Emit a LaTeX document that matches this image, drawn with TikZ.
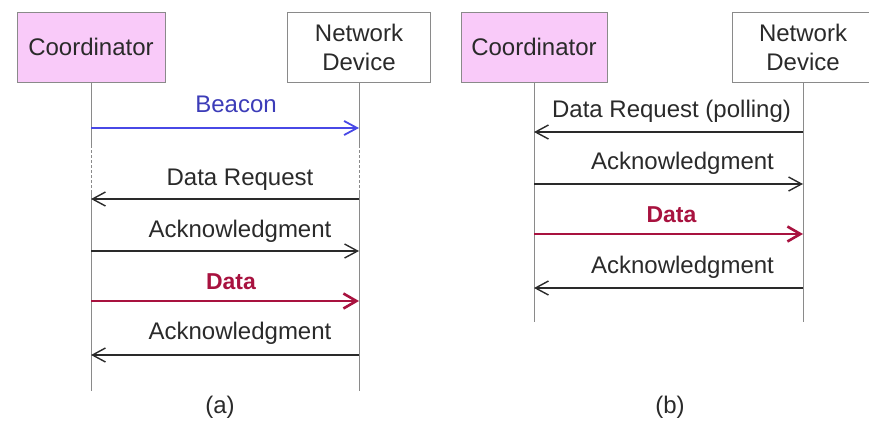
\documentclass[tikz,border=0pt]{standalone}
\usepackage{fontspec}
\setmainfont{Liberation Sans}
\usetikzlibrary{positioning,calc,arrows.meta}

\definecolor{boxpink}{HTML}{F9CAF9}
\definecolor{linegray}{HTML}{8A8A8A}
\definecolor{msgblue}{HTML}{4848E6}
\definecolor{labelblue}{HTML}{3C3CB8}
\definecolor{msgred}{HTML}{A8123F}
\definecolor{msgblack}{HTML}{2A2A2A}

\tikzset{
    actor/.style={draw=linegray, line width=1pt, minimum height=70pt, align=center,
        inner sep=0pt, text=msgblack, font=\fontsize{24}{29}\selectfont},
    lifeline/.style={draw=linegray, line width=1pt},
    msg/.style={draw=msgblack, line width=1.4pt,
        -{Straight Barb[length=13pt,width=14pt,line width=1.4pt]}},
    datamsg/.style={draw=msgred, line width=2.6pt,
        -{Straight Barb[length=13pt,width=15pt,line width=2.6pt]}},
    msglabel/.style={font=\fontsize{24}{28}\selectfont, text=msgblack, inner sep=0pt, anchor=base},
    caption/.style={font=\fontsize{24}{28}\selectfont, text=msgblack, inner sep=0pt}
}

\begin{document}
\begin{tikzpicture}[x=1pt, y=-1pt]
    \useasboundingbox (0,0) rectangle (869,421);

    % Beacon-enabled (a)
    \begin{scope}
        \node[actor, fill=boxpink, minimum width=148pt] (coordA) at (91,47) {Coordinator};
        \node[actor, fill=white, minimum width=143pt] (devA) at (359,47) {Network\\Device};
        \coordinate (coordAend) at (coordA.south |- 0,391);
        \coordinate (devAend) at (devA.south |- 0,391);
        \draw[lifeline] (coordA.south) -- (coordA.south |- 0,145);
        \draw[lifeline, dashed, dash pattern=on 3pt off 2pt] (coordA.south |- 0,145) -- (coordA.south |- 0,190);
        \draw[lifeline] (coordA.south |- 0,190) -- (coordAend);
        \draw[lifeline] (devA.south) -- (devA.south |- 0,145);
        \draw[lifeline, dashed, dash pattern=on 3pt off 2pt] (devA.south |- 0,145) -- (devA.south |- 0,190);
        \draw[lifeline] (devA.south |- 0,190) -- (devAend);

        \draw[msg, draw=msgblue, line width=1.8pt,
              -{Straight Barb[length=13pt,width=14pt,line width=1.8pt]}]
            (coordA.south |- 0,128) -- (devA.south |- 0,128)
            node[msglabel, text=labelblue, midway, yshift=16pt, xshift=11pt] {Beacon};
        \draw[msg] (devA.south |- 0,199) -- (coordA.south |- 0,199)
            node[msglabel, midway, yshift=14pt, xshift=15pt] {Data Request};
        \draw[msg] (coordA.south |- 0,251) -- (devA.south |- 0,251)
            node[msglabel, midway, yshift=14pt, xshift=15pt] {Acknowledgment};
        \draw[datamsg] (coordA.south |- 0,301) -- (devA.south |- 0,301)
            node[msglabel, text=msgred, font=\fontsize{23}{28}\selectfont\bfseries,
                 midway, yshift=12pt, xshift=6pt] {Data};
        \draw[msg] (devA.south |- 0,355) -- (coordA.south |- 0,355)
            node[msglabel, midway, yshift=16pt, xshift=15pt] {Acknowledgment};
        \node[caption] (capA) at (220,407) {(a)};
    \end{scope}

    % Non beacon-enabled (b)
    \begin{scope}
        \node[actor, fill=boxpink, minimum width=146pt] (coordB) at (534,47) {Coordinator};
        \node[actor, fill=white, minimum width=142pt] (devB) at (803,47) {Network\\Device};
        \coordinate (coordBend) at (coordB.south |- 0,322);
        \coordinate (devBend) at (devB.south |- 0,322);
        \draw[lifeline] (coordB.south) -- (coordBend);
        \draw[lifeline] (devB.south) -- (devBend);

        \draw[msg] (devB.south |- 0,132) -- (coordB.south |- 0,132)
            node[msglabel, midway, yshift=15pt, xshift=3pt] {Data Request (polling)};
        \draw[msg] (coordB.south |- 0,184) -- (devB.south |- 0,184)
            node[msglabel, midway, yshift=15pt, xshift=14pt] {Acknowledgment};
        \draw[datamsg] (coordB.south |- 0,234) -- (devB.south |- 0,234)
            node[msglabel, text=msgred, font=\fontsize{23}{28}\selectfont\bfseries,
                 midway, yshift=12pt, xshift=3pt] {Data};
        \draw[msg] (devB.south |- 0,288) -- (coordB.south |- 0,288)
            node[msglabel, midway, yshift=15pt, xshift=14pt] {Acknowledgment};
        \node[caption] (capB) at (670,407) {(b)};
    \end{scope}
\end{tikzpicture}
\end{document}
